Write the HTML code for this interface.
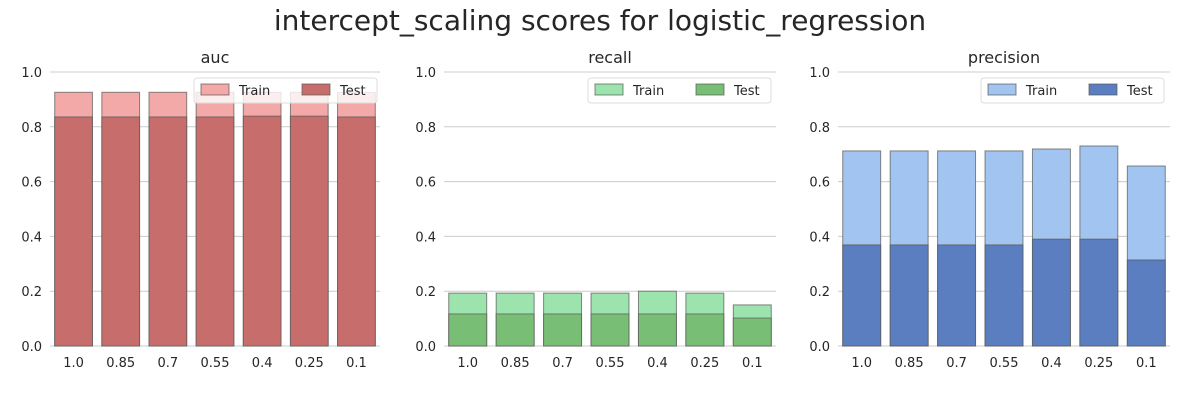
<!DOCTYPE html>
<html><head><meta charset="utf-8"><style>
body{margin:0;background:#fff;}
svg text{font-family:"DejaVu Sans","Liberation Sans",sans-serif;fill:#262626;}
</style></head><body>
<svg id="chart" width="1200" height="400" xmlns="http://www.w3.org/2000/svg">
<text x="600" y="30" font-size="28" text-anchor="middle">intercept_scaling scores for logistic_regression</text>
</svg>
<script>
const categories = ["1.0","0.85","0.7","0.55","0.4","0.25","0.1"];
const yTicks = [0,0.2,0.4,0.6,0.8,1.0];
const aucTrain = [0.926,0.926,0.926,0.926,0.926,0.926,0.925];
const aucTest = [0.836,0.836,0.836,0.836,0.839,0.839,0.836];
const recallTrain = [0.193,0.193,0.193,0.193,0.200,0.193,0.150];
const recallTest = [0.117,0.117,0.117,0.117,0.117,0.117,0.102];
const precTrain = [0.712,0.712,0.712,0.712,0.719,0.730,0.657];
const precTest = [0.369,0.369,0.369,0.369,0.390,0.390,0.314];

const panels = [
 {name:"auc", x0:50, x1:380, train:aucTrain, test:aucTest, c1:"#f2a9a8", c2:"#c76e6d", lx:194},
 {name:"recall", x0:444, x1:776, train:recallTrain, test:recallTest, c1:"#9de3ad", c2:"#78bf75", lx:588},
 {name:"precision", x0:838, x1:1170, train:precTrain, test:precTest, c1:"#a1c5f0", c2:"#5b7ec1", lx:981}
];
const svg = document.getElementById('chart');
const NS = "http://www.w3.org/2000/svg";
const Y0 = 346, Y1 = 72;
function yScale(v){ return Y0 - v*(Y0-Y1); }
function mk(tag, attrs, parent){
  const e = document.createElementNS(NS, tag);
  for (const k in attrs) e.setAttribute(k, attrs[k]);
  (parent||svg).appendChild(e);
  return e;
}
panels.forEach(p => {
  const g = mk('g', {});
  
  
  const t = mk('text', {x:(p.x0+p.x1)/2, y:63, 'font-size':16, 'text-anchor':'middle'}, g);
  t.textContent = p.name;
  
  
  yTicks.forEach(v => {
    const y = yScale(v);
    const l = mk('line', {x1:p.x0, x2:p.x1, y1:y, y2:y, stroke:'#cccccc', 'stroke-width':1}, g);
    
    
    const tl = mk('text', {x:p.x0-8, y:y+5, 'font-size':13, 'text-anchor':'end'}, g);
    tl.textContent = v.toFixed(1);
    
    
  });
  const band = (p.x1-p.x0)/categories.length, bw = band*0.8;
  categories.forEach((c,i) => {
    const x = p.x0 + band*i + (band-bw)/2;
    [[p.train,p.c1,'train'],[p.test,p.c2,'test']].forEach(([arr,col,nm]) => {
      const y = yScale(arr[i]);
      const r = mk('rect', {x:x, y:y, width:bw, height:Y0-y, fill:col, stroke:'#555', 'stroke-opacity':0.7, 'stroke-width':1}, g);
      
      
    });
    const xl = mk('text', {x:x+bw/2, y:367, 'font-size':13, 'text-anchor':'middle'}, g);
    xl.textContent = c;
    
    
  });
  const lg = mk('g', {}, g);
  
  
  mk('rect', {x:p.lx, y:78, width:183, height:25, rx:3, fill:'#fff', 'fill-opacity':0.8, stroke:'#ddd'}, lg);
  [[p.c1,'Train',0],[p.c2,'Test',101]].forEach(([col,lab,dx]) => {
    const sw = mk('rect', {x:p.lx+7+dx, y:84, width:28, height:11, fill:col, stroke:'#555', 'stroke-opacity':0.7}, lg);
    
    
    const lt = mk('text', {x:p.lx+45+dx, y:95, 'font-size':13}, lg);
    lt.textContent = lab;
    
    
  });
});
</script>
</body></html>
